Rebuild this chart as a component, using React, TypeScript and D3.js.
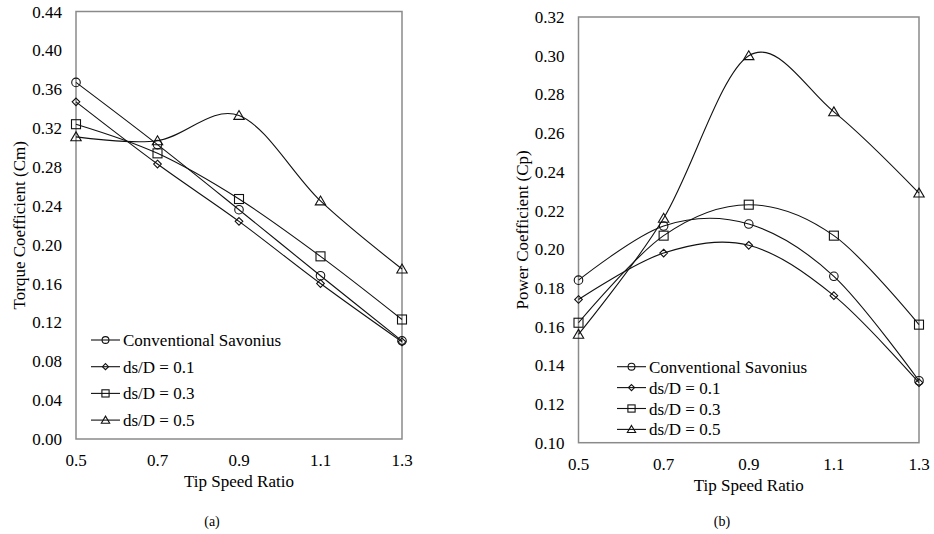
import React, { useRef, useEffect } from "react";
import * as d3 from "d3";

// tip speed ratio
const tsr = [0.5, 0.7, 0.9, 1.1, 1.3];
const xTicks = ["0.5", "0.7", "0.9", "1.1", "1.3"];

const seriesNames = ["Conventional Savonius", "ds/D = 0.1", "ds/D = 0.3", "ds/D = 0.5"];
const markers = ["circle", "diamond", "square", "triangle"];

// (a) torque coefficient
const cmConventional = [0.367, 0.303, 0.236, 0.168, 0.101];
const cmDs01 = [0.347, 0.283, 0.224, 0.16, 0.1];
const cmDs03 = [0.324, 0.294, 0.247, 0.188, 0.123];
const cmDs05 = [0.311, 0.307, 0.333, 0.245, 0.175];
const cmTicks = [0, 0.04, 0.08, 0.12, 0.16, 0.2, 0.24, 0.28, 0.32, 0.36, 0.4, 0.44];

// (b) power coefficient
const cpConventional = [0.184, 0.212, 0.213, 0.186, 0.132];
const cpDs01 = [0.174, 0.198, 0.202, 0.176, 0.131];
const cpDs03 = [0.162, 0.207, 0.223, 0.207, 0.161];
const cpDs05 = [0.156, 0.216, 0.3, 0.271, 0.229];
const cpTicks = [0.1, 0.12, 0.14, 0.16, 0.18, 0.2, 0.22, 0.24, 0.26, 0.28, 0.3, 0.32];

const FONT = "Liberation Serif";

function drawMarker(g, type, x, y, s) {
  if (type === "circle") {
    g.append("circle").attr("cx", x).attr("cy", y).attr("r", s * 0.95);
  } else if (type === "square") {
    g.append("rect").attr("x", x - s).attr("y", y - s).attr("width", 2 * s).attr("height", 2 * s);
  } else if (type === "diamond") {
    const d = s * 0.85;
    g.append("path").attr("d", `M${x},${y - d}L${x + d},${y}L${x},${y + d}L${x - d},${y}Z`);
  } else {
    const h = s * 1.1;
    g.append("path").attr("d", `M${x},${y - h}L${x + h * 1.05},${y + h * 0.8}L${x - h * 1.05},${y + h * 0.8}Z`);
  }
}

function drawPanel(svg, cfg) {
  const { left, right, top, bottom, domain, ticks, series, title, caption, legend } = cfg;
  const x = d3.scaleLinear().domain([0.5, 1.3]).range([left, right]);
  const y = d3.scaleLinear().domain(domain).range([bottom, top]);
  const g = svg.append("g").attr("font-family", FONT).attr("fill", "#000");

  // frame
  g.append("rect")
    .attr("x", left).attr("y", top)
    .attr("width", right - left).attr("height", bottom - top)
    .attr("fill", "none").attr("stroke", "#8a8a8a").attr("stroke-width", 1.5);

  g.selectAll(".ytick")
    .data(ticks)
    .join("text")
    .attr("class", "ytick")
    .attr("font-family", FONT)
    .attr("x", left - 14)
    .attr("y", (d) => y(d) + 6)
    .attr("text-anchor", "end")
    .attr("font-size", 17)
    .text((d) => d.toFixed(2));

  g.selectAll(".xtick")
    .data(tsr)
    .join("text")
    .attr("class", "xtick")
    .attr("font-family", FONT)
    .attr("x", (d) => x(d))
    .attr("y", bottom + 27)
    .attr("text-anchor", "middle")
    .attr("font-size", 17)
    .text((d, i) => xTicks[i]);

  g.append("text")
    .attr("font-family", FONT)
    .attr("x", (left + right) / 2)
    .attr("y", bottom + 48)
    .attr("text-anchor", "middle")
    .attr("font-size", 17)
    .text("Tip Speed Ratio");

  g.append("text")
    .attr("font-family", FONT)
    .attr("transform", `translate(${cfg.titleX},${(top + bottom) / 2}) rotate(-90)`)
    .attr("text-anchor", "middle")
    .attr("font-size", 17)
    .text(title);

  g.append("text")
    .attr("font-family", FONT)
    .attr("x", cfg.captionX)
    .attr("y", 526)
    .attr("text-anchor", "middle")
    .attr("font-size", 14)
    .text(caption);

  const curve = d3.line()
    .x((d, i) => x(tsr[i]))
    .y((d) => y(d))
    .curve(d3.curveCardinal.tension(0));

  series.forEach((vals, si) => {
    g.append("path")
      .attr("d", curve(vals))
      .attr("fill", "none")
      .attr("stroke", "#111")
      .attr("stroke-width", 1.1);
    const mg = g.append("g").attr("fill", "none").attr("stroke", "#111").attr("stroke-width", 1.1);
    vals.forEach((v, i) => drawMarker(mg, markers[si], x(tsr[i]), y(v), 4.5));
  });

  // legend
  seriesNames.forEach((name, si) => {
    const ly = legend.y + si * legend.dy;
    const lg = g.append("g").attr("fill", "none").attr("stroke", "#111").attr("stroke-width", 1.1);
    lg.append("line").attr("x1", legend.x).attr("x2", legend.x + 29).attr("y1", ly).attr("y2", ly);
    drawMarker(lg, markers[si], legend.x + 14.5, ly, 3.6);
    g.append("text")
      .attr("font-family", FONT)
      .attr("x", legend.x + 32)
      .attr("y", ly + 6)
      .attr("font-size", 17)
      .text(name);
  });
}

export default function App() {
  const svgRef = useRef(null);

  useEffect(() => {
    const svg = d3.select(svgRef.current);
    svg.selectAll("*").remove();
    drawPanel(svg, {
      left: 76, right: 402, top: 11.5, bottom: 439,
      domain: [0, 0.44], ticks: cmTicks,
      series: [cmConventional, cmDs01, cmDs03, cmDs05],
      title: "Torque Coefficient (Cm)", titleX: 25,
      caption: "(a)", captionX: 212,
      legend: { x: 91, y: 340, dy: 26.7 },
    });
    drawPanel(svg, {
      left: 578.5, right: 919, top: 17, bottom: 442.7,
      domain: [0.1, 0.32], ticks: cpTicks,
      series: [cpConventional, cpDs01, cpDs03, cpDs05],
      title: "Power Coefficient (Cp)", titleX: 528,
      caption: "(b)", captionX: 722,
      legend: { x: 617, y: 366.7, dy: 20.9 },
    });
  }, []);

  return (
    <svg
      ref={svgRef}
      width={934}
      height={534}
      style={{ position: "absolute", left: 0, top: 0, background: "#fff" }}
    />
  );
}
